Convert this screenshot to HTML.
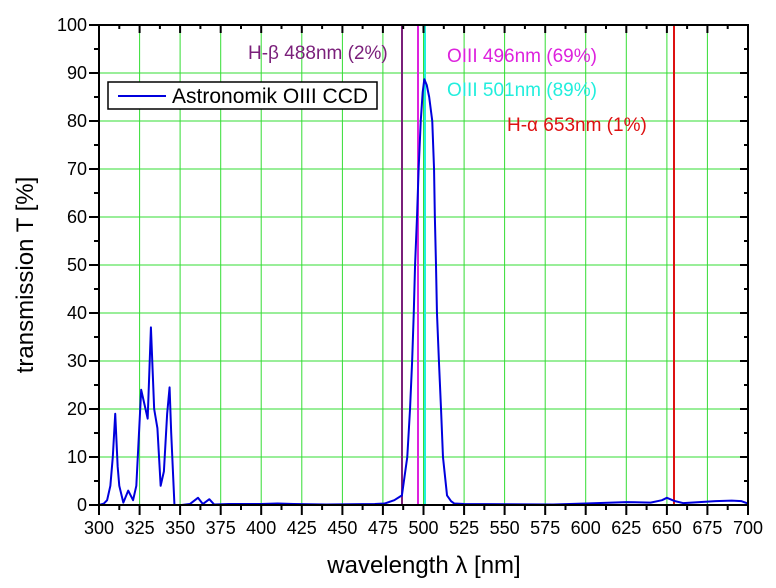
<!DOCTYPE html>
<html><head><meta charset="utf-8"><style>
body{margin:0;background:#fff;}
svg{display:block;font-family:"Liberation Sans",Arial,sans-serif;}
</style></head><body>
<svg width="776" height="588" viewBox="0 0 776 588" xmlns="http://www.w3.org/2000/svg">
<rect width="776" height="588" fill="#fff"/>
<g stroke="#33dd33" stroke-width="1">
<line x1="139.6" y1="25" x2="139.6" y2="505"/><line x1="180.1" y1="25" x2="180.1" y2="505"/><line x1="220.7" y1="25" x2="220.7" y2="505"/><line x1="261.2" y1="25" x2="261.2" y2="505"/><line x1="301.8" y1="25" x2="301.8" y2="505"/><line x1="342.4" y1="25" x2="342.4" y2="505"/><line x1="382.9" y1="25" x2="382.9" y2="505"/><line x1="423.5" y1="25" x2="423.5" y2="505"/><line x1="464.1" y1="25" x2="464.1" y2="505"/><line x1="504.6" y1="25" x2="504.6" y2="505"/><line x1="545.2" y1="25" x2="545.2" y2="505"/><line x1="585.7" y1="25" x2="585.7" y2="505"/><line x1="626.3" y1="25" x2="626.3" y2="505"/><line x1="666.9" y1="25" x2="666.9" y2="505"/><line x1="707.4" y1="25" x2="707.4" y2="505"/>
<line x1="99" y1="457" x2="748" y2="457"/><line x1="99" y1="409" x2="748" y2="409"/><line x1="99" y1="361" x2="748" y2="361"/><line x1="99" y1="313" x2="748" y2="313"/><line x1="99" y1="265" x2="748" y2="265"/><line x1="99" y1="217" x2="748" y2="217"/><line x1="99" y1="169" x2="748" y2="169"/><line x1="99" y1="121" x2="748" y2="121"/><line x1="99" y1="73" x2="748" y2="73"/>
</g>
<g stroke-width="2">
<line x1="402" y1="25" x2="402" y2="505" stroke="#7a1f7a"/>
<line x1="418" y1="25" x2="418" y2="505" stroke="#dd22dd"/>
<line x1="425" y1="25" x2="425" y2="505" stroke="#22eedd"/>
<line x1="674" y1="25" x2="674" y2="505" stroke="#dd1111"/>
</g>
<g transform="translate(99,505) scale(1.6225,-4.8)">
<polyline fill="none" stroke="#0000dd" stroke-width="2" vector-effect="non-scaling-stroke" stroke-linejoin="round" points="0,0 3,0.3 5,1 7,4 8.5,10 10,19 11.5,8 12.5,4 15,0.5 18,3 21,1 23,4 26,24 29,19.5 30,18 32,37 34,20 36,16 38,4 40,7 42,19 43.5,24.5 44.5,15 46.5,0 51,0 56,0.2 61,1.5 64,0.2 68,1.2 71,0.1 80,0.2 100,0.2 110,0.3 120,0.2 140,0.1 170,0.2 176,0.3 182,1 186.7,2 190,10 191.7,20 193,30 194,40 194.8,50 196,60 197,70 198.3,80 199.5,86 200.5,88.7 202,87.5 203.5,85 205.4,80 206.5,70 207,60 207.7,50 208.3,40 209.5,30 210.8,20 212,10 214.5,2 217,0.8 219,0.3 225,0.2 280,0.1 300,0.3 325,0.6 340,0.5 347,1 350,1.5 355,0.8 360,0.4 370,0.6 380,0.8 390,0.9 396,0.8 400,0.3"/>
</g>
<rect x="99" y="25" width="649" height="480" stroke="#000" stroke-width="2" fill="none"/>
<g stroke="#000" stroke-width="2">
<path d="M99,505v10M139.6,505v10M180.1,505v10M220.7,505v10M261.2,505v10M301.8,505v10M342.4,505v10M382.9,505v10M423.5,505v10M464.1,505v10M504.6,505v10M545.2,505v10M585.7,505v10M626.3,505v10M666.9,505v10M707.4,505v10M748,505v10"/>
<path d="M119.3,505v5M159.9,505v5M200.4,505v5M241,505v5M281.5,505v5M322.1,505v5M362.6,505v5M403.2,505v5M443.8,505v5M484.3,505v5M524.9,505v5M565.5,505v5M606,505v5M646.6,505v5M687.1,505v5M727.7,505v5"/>
<path d="M139.6,25v8M180.1,25v8M220.7,25v8M261.2,25v8M301.8,25v8M342.4,25v8M382.9,25v8M423.5,25v8M464.1,25v8M504.6,25v8M545.2,25v8M585.7,25v8M626.3,25v8M666.9,25v8M707.4,25v8"/>
<path d="M119.3,25v4M159.9,25v4M200.4,25v4M241,25v4M281.5,25v4M322.1,25v4M362.6,25v4M403.2,25v4M443.8,25v4M484.3,25v4M524.9,25v4M565.5,25v4M606,25v4M646.6,25v4M687.1,25v4M727.7,25v4"/>
<path d="M89,505h10M89,457h10M89,409h10M89,361h10M89,313h10M89,265h10M89,217h10M89,169h10M89,121h10M89,73h10M89,25h10"/>
<path d="M94,481h5M94,433h5M94,385h5M94,337h5M94,289h5M94,241h5M94,193h5M94,145h5M94,97h5M94,49h5"/>
<path d="M740,457h8M740,409h8M740,361h8M740,313h8M740,265h8M740,217h8M740,169h8M740,121h8M740,73h8"/>
<path d="M744,481h4M744,433h4M744,385h4M744,337h4M744,289h4M744,241h4M744,193h4M744,145h4M744,97h4M744,49h4"/>
</g>
<g font-size="18" fill="#000" text-anchor="middle">
<text x="99" y="534">300</text><text x="139.6" y="534">325</text><text x="180.1" y="534">350</text><text x="220.7" y="534">375</text><text x="261.2" y="534">400</text><text x="301.8" y="534">425</text><text x="342.4" y="534">450</text><text x="382.9" y="534">475</text><text x="423.5" y="534">500</text><text x="464.1" y="534">525</text><text x="504.6" y="534">550</text><text x="545.2" y="534">575</text><text x="585.7" y="534">600</text><text x="626.3" y="534">625</text><text x="666.9" y="534">650</text><text x="707.4" y="534">675</text><text x="748" y="534">700</text>
</g>
<g font-size="18" fill="#000" text-anchor="end">
<text x="87" y="511">0</text><text x="87" y="463">10</text><text x="87" y="415">20</text><text x="87" y="367">30</text><text x="87" y="319">40</text><text x="87" y="271">50</text><text x="87" y="223">60</text><text x="87" y="175">70</text><text x="87" y="127">80</text><text x="87" y="79">90</text><text x="87" y="31">100</text>
</g>
<text x="424" y="573" font-size="24" text-anchor="middle">wavelength λ [nm]</text>
<text transform="translate(33,275) rotate(-90)" font-size="24" text-anchor="middle">transmission T [%]</text>
<rect x="108" y="82" width="269" height="27" fill="#fff" stroke="#000" stroke-width="1.5"/>
<line x1="118" y1="96" x2="166" y2="96" stroke="#0000dd" stroke-width="2"/>
<text x="172" y="103" font-size="21">Astronomik OIII CCD</text>
<g font-size="19">
<text x="248" y="59" fill="#7a1f7a">H-β 488nm (2%)</text>
<text x="447" y="62" fill="#dd22dd">OIII 496nm (69%)</text>
<text x="447" y="96" fill="#22eedd">OIII 501nm (89%)</text>
<text x="507" y="131" fill="#dd1111">H-α 653nm (1%)</text>
</g>
</svg>
</body></html>
